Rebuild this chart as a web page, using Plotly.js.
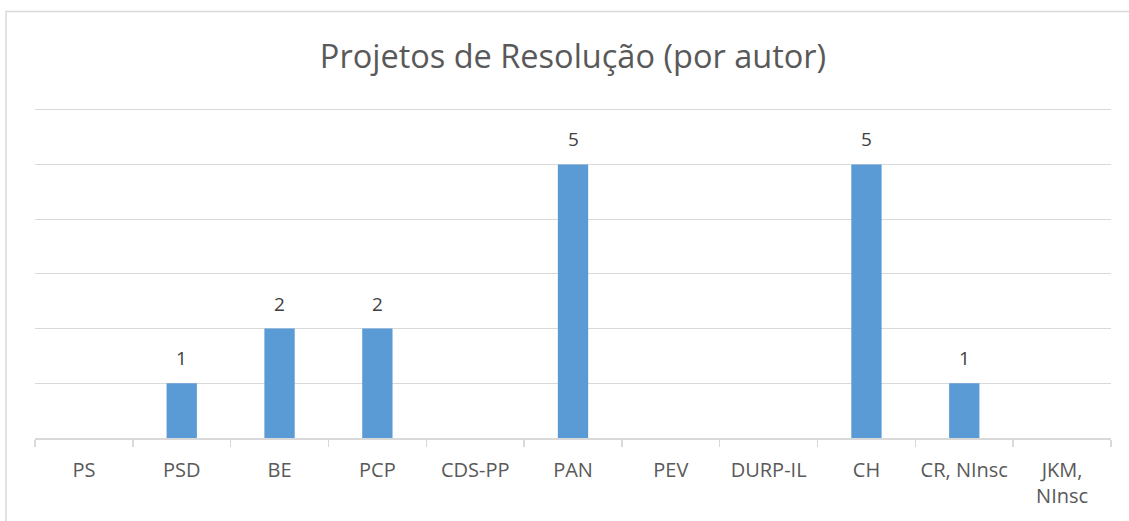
<!DOCTYPE html>
<html><head><meta charset="utf-8">
<script src="https://cdn.plot.ly/plotly-3.0.1.min.js"></script>
<style>html,body{margin:0;padding:0;background:#fff;}#chart{width:1129px;height:521px;}</style>
</head><body><div id="chart"></div>
<script>
const categories = ["PS","PSD","BE","PCP","CDS-PP","PAN","PEV","DURP-IL","CH","CR, NInsc","JKM,<br>NInsc"];
const values = [0,1,2,2,0,5,0,0,5,1,0];
const gridValues = [1, 2, 3, 4, 5, 6];

const trace = {
  type: "bar",
  x: categories,
  y: values,
  marker: {color: "#5B9BD5"},
  hoverinfo: "x+y"
};

const annotations = categories
  .map((c, i) => ({c, v: values[i]}))
  .filter(d => d.v > 0)
  .map(d => ({
    x: d.c, y: d.v, xref: "x", yref: "y",
    text: String(d.v), showarrow: false,
    yanchor: "middle", yshift: 25,
    font: {family: "Open Sans", size: 19, color: "#404040"}
  }));

const layout = {
  width: 1129, height: 521,
  margin: {l: 35, r: 18, t: 107, b: 83},
  paper_bgcolor: "#ffffff", plot_bgcolor: "#ffffff",
  bargap: 0.69,
  showlegend: false,
  font: {family: "Open Sans", color: "#595959"},
  title: {text: "Projetos de Resolução (por autor)", x: 0.5, xref: "paper", xanchor: "center",
          y: 1 - 57/521, yref: "container", yanchor: "middle",
          font: {family: "Open Sans", size: 32.5, color: "#595959"}},
  xaxis: {type: "category", showline: true, linecolor: "#d9d9d9", linewidth: 1.5,
          ticks: "outside", tickson: "boundaries", ticklen: 7, tickcolor: "#d9d9d9", tickwidth: 1.5,
          ticklabelstandoff: 13,
          tickfont: {family: "Open Sans", size: 20, color: "#595959"}, showgrid: false, zeroline: false},
  yaxis: {range: [0, 6.05], tickvals: gridValues, showticklabels: false, showgrid: true,
          gridcolor: "#d9d9d9", gridwidth: 1.2, zeroline: false, showline: false, ticks: ""},
  annotations: annotations,
  shapes: [{type: "rect", xref: "paper", yref: "paper",
            x0: (6 - 35) / 1076, x1: (1140 - 35) / 1076,
            y0: (438 - 530) / 331, y1: (438 - 11.5) / 331,
            line: {color: "#d9d9d9", width: 1.5}, fillcolor: "rgba(0,0,0,0)", layer: "below"}]
};

Plotly.newPlot("chart", [trace], layout, {displayModeBar: false, staticPlot: true});
</script></body></html>
